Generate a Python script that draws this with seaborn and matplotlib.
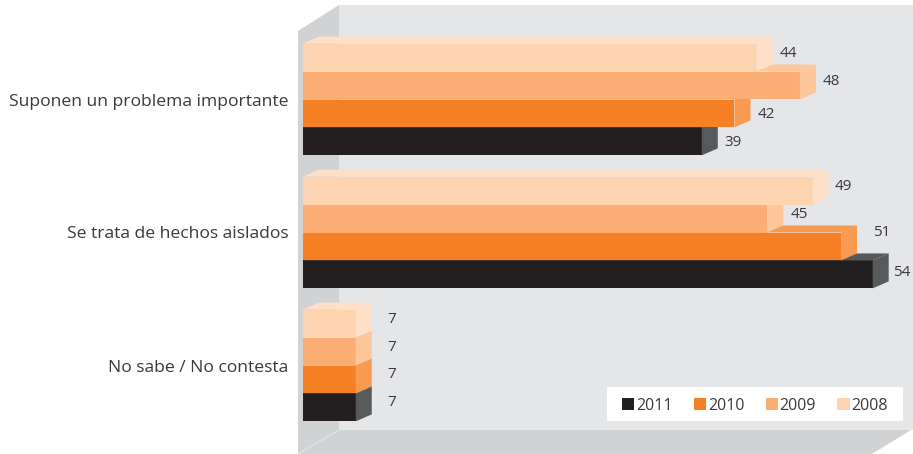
import matplotlib
matplotlib.use("Agg")
import matplotlib.pyplot as plt
import pandas as pd
import seaborn as sns
from matplotlib.patches import Patch, Polygon

W, H = 913, 454

categories = ["Suponen un problema importante", "Se trata de hechos aislados", "No sabe / No contesta"]
years = ["2008", "2009", "2010", "2011"]

# printed values
labels_2008 = [44, 49, 7]
labels_2009 = [48, 45, 7]
labels_2010 = [42, 51, 7]
labels_2011 = [39, 54, 7]

# the drawn bars are not quite proportional to the printed values, lengths read off the picture
bars_2008 = [43.0, 48.3, 5.0]
bars_2009 = [47.1, 44.0, 5.0]
bars_2010 = [40.9, 51.0, 5.0]
bars_2011 = [37.8, 54.0, 5.0]

front = {"2008": "#FDD3B0", "2009": "#FBAE73", "2010": "#F58025", "2011": "#231F20"}
side = {"2008": "#FEE0C8", "2009": "#FDC79B", "2010": "#F89B50", "2011": "#58595B"}

# label offsets from the bar end, in pixels (the original labels sit unevenly)
nudge = {
    "2008": [(23, 4), (22, 4), (31, 4)],
    "2009": [(23, 4), (23, 4), (31, 4)],
    "2010": [(23, -1), (32, 14), (31, 5)],
    "2011": [(23, -1), (20, 2), (31, 5)],
}

df = pd.DataFrame({
    "categoria": categories * 4,
    "year": sum([[y] * 3 for y in years], []),
    "largo": bars_2008 + bars_2009 + bars_2010 + bars_2011,
})
printed = {"2008": labels_2008, "2009": labels_2009, "2010": labels_2010, "2011": labels_2011}

sns.set_theme(style="white")
plt.rcParams["font.family"] = ["Open Sans", "DejaVu Sans"]
text_color = "#3A3A3C"

fig = plt.figure(figsize=(W / 100, H / 100), dpi=100)

# 3D box behind the chart, drawn in pixel coordinates
bg = fig.add_axes([0, 0, 1, 1], zorder=0)
bg.set_xlim(0, W)
bg.set_ylim(H, 0)
bg.axis("off")
bg.add_patch(Polygon([(339, 5), (W, 5), (W, 430), (339, 430)], fc="#E5E6E8", ec="none"))
bg.add_patch(Polygon([(298, 31), (339, 5), (339, 430), (298, 454)], fc="#D1D2D4", ec="none"))
bg.add_patch(Polygon([(339, 430), (911, 430), (872, 454), (298, 454)], fc="#D1D2D4", ec="none"))
bg.plot([339, 298], [430, 454], color="#E5E6E8", lw=0.6)
# white box for the legend
bg.add_patch(Polygon([(607, 387), (903, 387), (903, 421), (607, 421)], fc="white", ec="none"))

# Chart axes, left edge is the bars' base line
ax = fig.add_axes([303 / W, 0, (W - 303) / W, 1], zorder=1)
ax.patch.set_visible(False)
sns.barplot(data=df, y="categoria", x="largo", hue="year", hue_order=years, order=categories,
            palette=front, width=0.84, gap=0, saturation=1, errorbar=None, legend=False,
            linewidth=0, ax=ax)

px_x = 10.55  # pixels per unit
px_y = 133    # pixels per category
ax.set_xlim(0, (W - 303) / px_x)
ax.set_ylim((H - 99.5) / px_y, -99.5 / px_y)
ax.set_xlabel("")
ax.set_ylabel("")
ax.set_xticks([])
sns.despine(ax=ax, left=True, bottom=True)
ax.tick_params(axis="y", length=0, pad=10.5, labelsize=12.6, labelcolor=text_color)

dx = 16 / px_x
dy = 7 / px_y

# extrude each bar, upper series go on top of lower ones
for i, (year, container) in enumerate(zip(years, ax.containers)):
    z = 10 - i
    for j, bar in enumerate(container):
        bar.set_zorder(z)
        x1 = bar.get_width()
        top = bar.get_y()
        bottom = top + bar.get_height()
        ax.add_patch(Polygon([(x1, top), (x1 + dx, top - dy), (x1 + dx, bottom - dy), (x1, bottom)],
                             fc=side[year], ec="none", zorder=z))
        ax.add_patch(Polygon([(0, top), (dx, top - dy), (x1 + dx, top - dy), (x1, top)],
                             fc=side[year], ec="none", zorder=z))
        ox, oy = nudge[year][j]
        ax.annotate(str(printed[year][j]), (x1, (top + bottom) / 2), xytext=(ox, oy),
                    textcoords="offset pixels", va="center", ha="left",
                    fontsize=11, color=text_color, zorder=20)

handles = [Patch(fc=front[y], ec="none", label=y) for y in years[::-1]]
leg = ax.legend(handles=handles, ncol=4, loc="center", mode="expand",
                bbox_to_anchor=(622 / W, 1 - 423 / H, 266 / W, 34 / H), bbox_transform=fig.transFigure,
                frameon=False, fontsize=11.5, labelcolor=text_color, handlelength=0.77, handleheight=0.77,
                handletextpad=0.12, columnspacing=1.4, borderpad=0, borderaxespad=0)
leg.set_zorder(30)

fig.savefig("out.png", dpi=100)
